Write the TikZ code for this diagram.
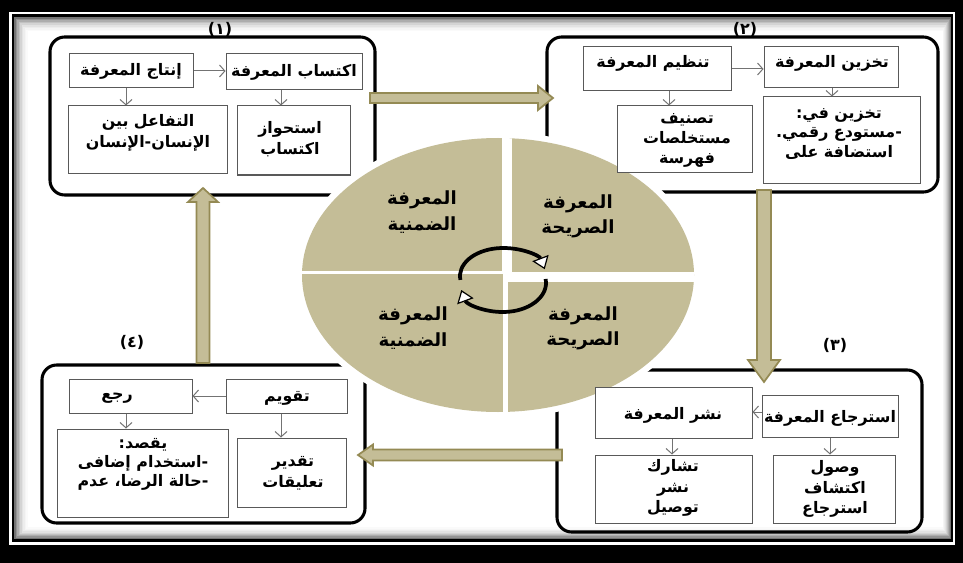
\documentclass[tikz,border=0pt]{standalone}
\usepackage{fontspec}
\setmainfont{DejaVu Sans}
\newfontfamily\arabicfont[Script=Arabic]{DejaVu Sans}
\TeXXeTstate=1
\usetikzlibrary{arrows.meta,fit,calc}
\definecolor{tanc}{RGB}{196,189,151}
\definecolor{olivec}{RGB}{148,138,84}
\newcommand{\AR}[1]{\hbox{\beginR #1\endR}}
\tikzset{
  modbox/.style={draw=black,line width=2.3pt,rounded corners=11pt,inner sep=0pt},
  ibox/.style={draw=black!65,line width=0.75pt,fill=white,inner sep=0pt},
  inarr/.style={draw=black!55,line width=0.75pt,-{Straight Barb[length=4pt,width=9pt]}},
  txt/.style={font=\arabicfont\bfseries\fontsize{11.9}{15.8}\selectfont,align=center,inner sep=0pt},
  bigtxt/.style={font=\arabicfont\bfseries\fontsize{13.6}{19}\selectfont,align=center,inner sep=0pt},
  numlab/.style={font=\arabicfont\bfseries\fontsize{12}{13}\selectfont,inner sep=0pt},
  bigarr/.style={fill=tanc,draw=olivec,line width=1.3pt,line join=miter},
  cyc/.style={line width=2.8pt,draw=black,-{Triangle[length=9pt,width=13pt,fill=white,line width=0.9pt]}}
}
\begin{document}
\begin{tikzpicture}[x=0.75pt,y=-0.75pt]
\useasboundingbox (0,0) rectangle (963,563);
% frame
\fill[black] (0,0) rectangle (963,563);
\fill[white] (9,12) rectangle (955,545);
\fill[black] (11.5,14.5) rectangle (952.5,541.5);
\foreach \i/\c in {0/55,1/42,2/32,3/24,4/17,5/11,6/7,7/4,8/2}
  \fill[black!\c] ({14+\i*1.5},{17+\i*1.6}) rectangle ({950.5-\i*0.9},{539-\i*1.3});
\fill[white] (27.5,31.4) rectangle (943.3,527.3);
% modules
\node[modbox,fit={(50,37) (375,195)}] (m1) {};
\node[modbox,fit={(547,37) (938,192)}] (m2) {};
\node[modbox,fit={(557,370) (922,532)}] (m3) {};
\node[modbox,fit={(42,365) (365,523)}] (m4) {};
\node[numlab] (n1) at (220,29) {(١)};
\node[numlab] (n2) at (745,29) {(٢)};
\node[numlab] (n3) at (835,345) {(٣)};
\node[numlab] (n4) at (132,342) {(٤)};
% big arrows
\coordinate (A1) at (370,98);
\coordinate (A2) at (764,190);
\coordinate (A3) at (562,455);
\coordinate (A4) at (203,363);
\draw[bigarr] (A1) ++(0,-5) -- ++(168,0) -- ++(0,-7) -- ++(15,12) -- ++(-15,12) -- ++(0,-7) -- ++(-168,0) -- cycle;
\draw[bigarr] (A2) ++(-7,0) -- ++(0,170) -- ++(-9,0) -- ++(16,22) -- ++(16,-22) -- ++(-9,0) -- ++(0,-170) -- cycle;
\draw[bigarr] (A3) ++(0,-5.5) -- ++(-189,0) -- ++(0,-5) -- ++(-15,10.5) -- ++(15,10.5) -- ++(0,-5) -- ++(189,0) -- cycle;
\draw[bigarr] (A4) ++(-6.5,0) -- ++(0,-161) -- ++(-8.5,0) -- ++(15,-14) -- ++(15,14) -- ++(-8.5,0) -- ++(0,161) -- cycle;
% central ellipse
\fill[white] (498,275) ellipse[x radius=203, y radius=143];
\begin{scope}
  \clip (498,275) ellipse[x radius=196, y radius=137];
  \fill[tanc] (290,130) rectangle (700,420);
  \fill[white] (502,130) rectangle (512,274);
  \fill[white] (503,270) rectangle (508,420);
  \fill[white] (290,271) rectangle (503,274);
  \fill[white] (505,272) rectangle (700,282);
\end{scope}
\node[bigtxt] (q1) at (422,212) {\AR{المعرفة}\\\AR{الضمنية}};
\node[bigtxt] (q2) at (578,216) {\AR{المعرفة}\\\AR{الصريحة}};
\node[bigtxt] (q3) at (413,328) {\AR{المعرفة}\\\AR{الضمنية}};
\node[bigtxt] (q4) at (583,328) {\AR{المعرفة}\\\AR{الصريحة}};
\coordinate (cu) at (503,276);
\coordinate (cl) at (503,283);
\draw[cyc] ($(cu)+({43*cos(172)},{28*sin(172)})$) arc[start angle=172,end angle=346,x radius=43,y radius=28];
\draw[cyc] ($(cl)+({43*cos(-8)},{29*sin(-8)})$) arc[start angle=-8,end angle=166,x radius=43,y radius=29];
% module 1
\node[ibox,fit={(69,54) (193,88)}] (b1a) {};
\node[ibox,fit={(226,54) (362,90)}] (b1b) {};
\node[ibox,fit={(68,106) (227,174)}] (b1c) {};
\node[ibox,fit={(237,106) (350,175)}] (b1d) {};
\draw[inarr] (b1a.east) -- (b1a.east -| b1b.west);
\draw[inarr] (b1a.south -| 126,0) -- (b1c.north -| 126,0);
\draw[inarr] (b1b.south -| 281,0) -- (b1d.north -| 281,0);
\node[txt] (t1a) at (131,71) {\AR{إنتاج المعرفة}};
\node[txt] (t1b) at (294,72) {\AR{اكتساب المعرفة}};
\node[txt] (t1c) at (148,133) {\AR{التفاعل بين}\\\AR{الإنسان\hbox{-}الإنسان}};
\node[txt] (t1d) at (290,139) {\AR{استحواز}\\\AR{اكتساب}};
% module 2
\node[ibox,fit={(583,47) (731,91)}] (b2a) {};
\node[ibox,fit={(764,47) (898,88)}] (b2b) {};
\node[ibox,fit={(617,106) (752,173)}] (b2c) {};
\node[ibox,fit={(763,97) (920,183)}] (b2d) {};
\draw[inarr] (b2a.east |- 0,69) -- (b2b.west |- 0,69);
\draw[inarr] (b2a.south -| 669,0) -- (b2c.north -| 669,0);
\draw[inarr] (b2b.south -| 832,0) -- (b2d.north -| 832,0);
\node[txt] (t2a) at (653,63) {\AR{تنظيم المعرفة}};
\node[txt] (t2b) at (832,63) {\AR{تخزين المعرفة}};
\node[txt,font=\arabicfont\bfseries\fontsize{11.9}{15}\selectfont] (t2c) at (687,140) {\AR{تصنيف}\\\AR{مستخلصات}\\\AR{فهرسة}};
\node[txt,font=\arabicfont\bfseries\fontsize{11.9}{14.5}\selectfont] (t2d) at (839,134) {\AR{تخزين في\hbox{:}}\\\AR{\hbox{-}مستودع رقمي\hbox{.}}\\\AR{استضافة على}};
% module 3
\node[ibox,fit={(595,387) (752,438)}] (b3a) {};
\node[ibox,fit={(762,395) (898,437)}] (b3b) {};
\node[ibox,fit={(595,455) (752,523)}] (b3c) {};
\node[ibox,fit={(773,455) (895,523)}] (b3d) {};
\draw[inarr] (b3b.west |- 0,412) -- (b3a.east |- 0,412);
\draw[inarr] (b3a.south -| 672,0) -- (b3c.north -| 672,0);
\draw[inarr] (b3b.south -| 830,0) -- (b3d.north -| 830,0);
\node[txt] (t3a) at (673,415) {\AR{نشر المعرفة}};
\node[txt] (t3b) at (830,418) {\AR{استرجاع المعرفة}};
\node[txt,font=\arabicfont\bfseries\fontsize{11.9}{15.4}\selectfont] (t3c) at (673,488) {\AR{تشارك}\\\AR{نشر}\\\AR{توصيل}};
\node[txt,font=\arabicfont\bfseries\fontsize{11.9}{15.6}\selectfont] (t3d) at (835,489) {\AR{وصول}\\\AR{اكتشاف}\\\AR{استرجاع}};
% module 4
\node[ibox,fit={(69,379) (192,413)}] (b4a) {};
\node[ibox,fit={(226,379) (347,413)}] (b4b) {};
\node[ibox,fit={(57,429) (228,517)}] (b4c) {};
\node[ibox,fit={(237,438) (346,507)}] (b4d) {};
\draw[inarr] (b4b.west) -- (b4b.west -| b4a.east);
\draw[inarr] (b4a.south -| 126,0) -- (b4c.north -| 126,0);
\draw[inarr] (b4b.south -| 281,0) -- (b4d.north -| 281,0);
\node[txt] (t4a) at (117,398) {\AR{رجع}};
\node[txt] (t4b) at (287,398) {\AR{تقويم}};
\node[txt,font=\arabicfont\bfseries\fontsize{11.9}{14.3}\selectfont] (t4c) at (143,464) {\AR{يقصد\hbox{:}}\\\AR{\hbox{-}استخدام إضافى}\\\AR{\hbox{-}حالة الرضا، عدم}};
\node[txt] (t4d) at (293,473) {\AR{تقدير}\\\AR{تعليقات}};
\end{tikzpicture}
\end{document}
